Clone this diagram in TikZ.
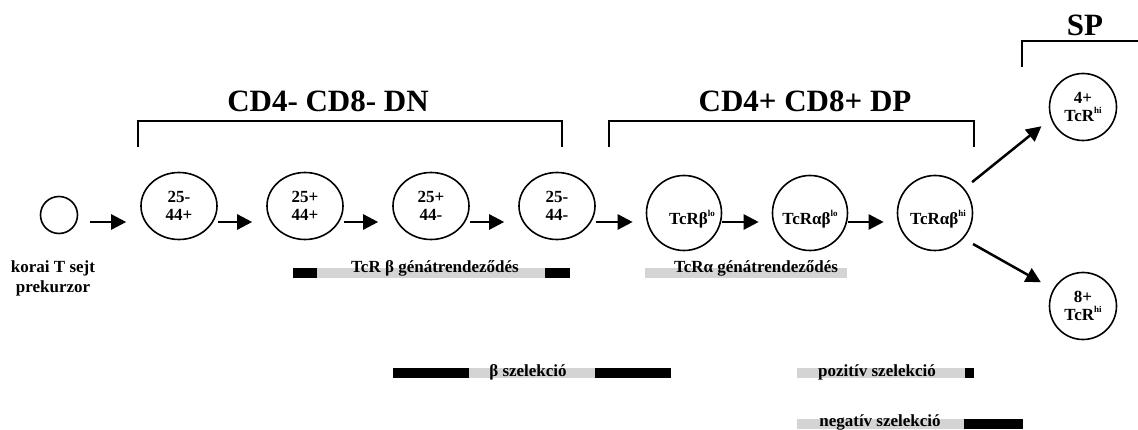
\documentclass[tikz,border=0pt]{standalone}
\usepackage{fontspec}
\setmainfont{Liberation Serif}
\usetikzlibrary{shapes.geometric,arrows.meta}
\definecolor{bargray}{gray}{0.83}
\newcommand{\supr}[1]{\raisebox{0.45em}{\fontsize{9}{9}\selectfont #1}}

\begin{document}
\begin{tikzpicture}[x=1pt,y=-1pt]

\def\gap{14pt}

\tikzset{
    every node/.style={font=\bfseries\fontsize{17}{18}\selectfont, inner sep=0pt},
    wire/.style={-{Triangle[length=15pt,width=15pt]}, line width=2.5pt, draw},
    dn cell/.style={ellipse, draw, line width=1.6pt, minimum width=76pt, minimum height=67pt, align=center},
    dp cell/.style={circle, draw, line width=1.6pt, minimum size=75pt},
    sp cell/.style={circle, draw, line width=1.6pt, minimum size=67pt, align=center},
    title/.style={font=\bfseries\fontsize{31}{34}\selectfont},
    bracket/.style={draw, line width=1.5pt},
    dark bar/.style={fill=black},
    light bar/.style={fill=bargray}
}

\useasboundingbox (0,0) rectangle (1138,430);

\node[circle, draw, line width=1.6pt, minimum size=37pt] (PRE) at (59,215) {};
\node[align=center, font=\bfseries\fontsize{17}{20}\selectfont] (PRE label) at (53,278) {korai T sejt\\prekurzor};

\foreach \name/\x/\first/\second in {DN1/179/25-/44+, DN2/305/25+/44+, DN3/431/25+/44-, DN4/557/25-/44-}
    \node[dn cell] (\name) at (\x,206) {\first\\\second};

\node[dp cell] (DP1) at (684,213) {};
\node[dp cell] (DP2) at (810,213) {};
\node[dp cell] (DP3) at (935,213) {};
\node (DP1 text) at (692,219) {TcRβ\supr{lo}};
\node (DP2 text) at (810,219) {TcRαβ\supr{lo}};
\node (DP3 text) at (938,219) {TcRαβ\supr{hi}};

\node[sp cell] (SP4) at (1083,107) {4+\\TcR\supr{hi}};
\node[sp cell] (SP8) at (1083,306) {8+\\TcR\supr{hi}};

\draw[wire, shorten <=12pt, shorten >=\gap] ([yshift=-7pt]PRE.east) -- ([yshift=-16pt]DN1.west);
\foreach \a/\b in {DN1/DN2, DN2/DN3, DN3/DN4}
    \draw[wire, shorten >=\gap] ([yshift=-16pt]\a.east) -- ([yshift=-16pt]\b.west);
\draw[wire, shorten >=13pt] ([yshift=-16pt]DN4.east) -- ([yshift=-9pt]DP1.west);
\draw[wire, shorten >=13pt] ([yshift=-9pt]DP1.east) -- ([yshift=-9pt]DP2.west);
\draw[wire, shorten >=13pt] ([yshift=-9pt]DP2.east) -- ([yshift=-9pt]DP3.west);
\draw[wire, shorten <=10pt, shorten >=12pt] (DP3.40) -- (SP4.-160);
\draw[wire, shorten <=11pt, shorten >=14pt] (DP3.-42) -- (SP8);

\node[title] (DN title) at (328,101) {CD4- CD8- DN};
\node[title] (DP title) at (805,101) {CD4+ CD8+ DP};
\node[title] (SP title) at (1085,25) {SP};
\path[bracket] (138,147) |- (562,121) -- (562,147);
\path[bracket] (609,147) |- (974,121) -- (974,147);
\path[bracket] (1022,67) |- (1138,41);

\path[dark bar] (293,268) rectangle (317,278);
\path[light bar] (317,268) rectangle (545,278);
\path[dark bar] (545,268) rectangle (570,278);
\path[light bar] (645,268) rectangle (847,278);
\path[dark bar] (393,368) rectangle (469,378);
\path[light bar] (469,368) rectangle (595,378);
\path[dark bar] (595,368) rectangle (671,378);
\path[light bar] (797,368) rectangle (965,378);
\path[dark bar] (965,368) rectangle (974,378);
\path[light bar] (797,419) rectangle (964,429);
\path[dark bar] (964,419) rectangle (1023,429);

\node[anchor=base] (beta rearr) at (435,273) {TcR β génátrendeződés};
\node[anchor=base] (alpha rearr) at (756,273) {TcRα génátrendeződés};
\node[anchor=base] (beta sel) at (528,376) {β szelekció};
\node[anchor=base] (pos sel) at (877,376) {pozitív szelekció};
\node[anchor=base] (neg sel) at (880,426) {negatív szelekció};

\end{tikzpicture}
\end{document}
